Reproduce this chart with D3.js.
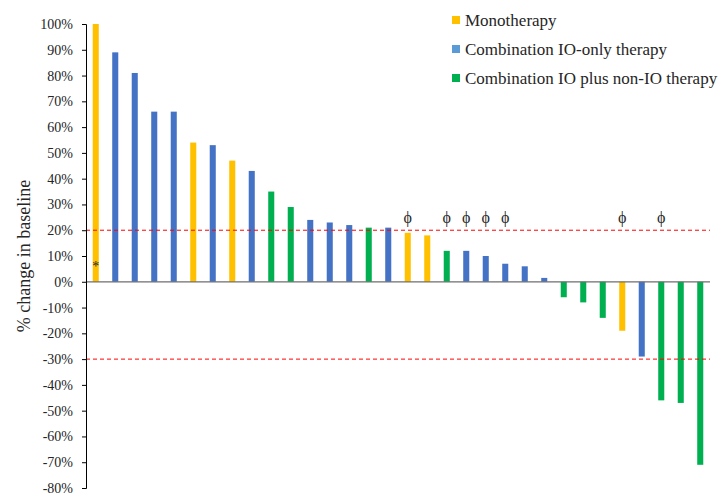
<!DOCTYPE html>
<html>
<head>
<meta charset="utf-8">
<script src="https://cdn.jsdelivr.net/npm/d3@7"></script>
<style>
  body { margin: 0; background: #fff; }
  svg text { font-family: 'Liberation Serif', 'Times New Roman', serif; fill: #262626; }
</style>
</head>
<body>
<div id="chart"></div>
<script>
// data (patients sorted by % change)
const patients = d3.range(1, 33).map(i => "P" + i);
const changes = [100, 89, 81, 66, 66, 54, 53, 47, 43, 35, 29, 24, 23, 22, 21, 21, 19, 18, 12, 12, 10, 7, 6, 1.5,
                 -6, -8, -14, -19, -29, -46, -47, -71];
const therapy = ["M", "C", "C", "C", "C", "M", "C", "M", "C", "N", "N", "C", "C", "C", "N", "C", "M", "M", "N", "C",
                 "C", "C", "C", "C", "N", "N", "N", "M", "C", "N", "N", "N"];
const phiMarked = ["P17", "P19", "P20", "P21", "P22", "P28", "P30"];
const starMarked = ["P1"];
const yTicks = d3.range(-80, 101, 10);
const cutoffs = [20, -30];
const legendKeys = ["M", "C", "N"];
const legendLabels = ["Monotherapy", "Combination IO-only therapy", "Combination IO plus non-IO therapy"];

const width = 723;
const height = 496;
const margin = {top: 24, right: 13, bottom: 8, left: 86};
const serif = "'Liberation Serif', 'Times New Roman', serif";

const svg = d3.select("#chart")
  .append("svg")
  .attr("width", width)
  .attr("height", height);

const x = d3.scaleBand()
  .domain(patients)
  .range([margin.left, width - margin.right])
  .paddingInner(0.69)
  .paddingOuter(0.345);

const y = d3.scaleLinear()
  .domain([-80, 100])
  .range([height - margin.bottom, margin.top]);

const barColor = d3.scaleOrdinal().domain(legendKeys).range(["#FFC000", "#4472C4", "#00B050"]);
const keyColor = d3.scaleOrdinal().domain(legendKeys).range(["#FFC000", "#5B9BD5", "#00B050"]);

// bars
svg.append("g")
  .selectAll("rect")
  .data(patients)
  .join("rect")
  .attr("x", d => x(d))
  .attr("width", x.bandwidth())
  .attr("y", (d, i) => y(Math.max(0, changes[i])))
  .attr("height", (d, i) => Math.abs(y(changes[i]) - y(0)))
  .attr("fill", (d, i) => barColor(therapy[i]));

// zero line
svg.append("line")
  .attr("x1", margin.left).attr("x2", width - margin.right)
  .attr("y1", y(0)).attr("y2", y(0))
  .attr("stroke", "#6e6e6e")
  .attr("stroke-width", 1.2);

// 20% / -30% cut-offs
svg.append("g")
  .selectAll("line")
  .data(cutoffs)
  .join("line")
  .attr("x1", margin.left).attr("x2", width - margin.right)
  .attr("y1", d => y(d)).attr("y2", d => y(d))
  .attr("stroke", "#FF0000")
  .attr("stroke-width", 1)
  .attr("stroke-dasharray", "4,3");

// y axis
const yAxis = svg.append("g")
  .attr("transform", `translate(${margin.left},0)`)
  .call(d3.axisLeft(y).tickValues(yTicks).tickSize(4).tickPadding(9).tickFormat(d => d + "%"));
yAxis.attr("font-family", serif).attr("font-size", 14);
yAxis.select(".domain").attr("stroke", "#000");
yAxis.selectAll(".tick line").attr("stroke", "#000");
yAxis.selectAll("text").attr("fill", "#262626");

svg.append("text")
  .attr("transform", "translate(30,256) rotate(-90)")
  .attr("text-anchor", "middle")
  .attr("font-family", serif)
  .attr("font-size", 18)
  .text("% change in baseline");

// annotations
svg.append("g")
  .selectAll("text")
  .data(phiMarked)
  .join("text")
  .attr("x", d => x(d) + x.bandwidth() / 2)
  .attr("y", 223)
  .attr("text-anchor", "middle")
  .attr("font-family", serif)
  .attr("font-size", 16)
  .text("ϕ");

svg.append("g")
  .selectAll("text")
  .data(starMarked)
  .join("text")
  .attr("x", d => x(d) + x.bandwidth() / 2)
  .attr("y", 271)
  .attr("text-anchor", "middle")
  .attr("font-family", serif)
  .attr("font-size", 14)
  .attr("fill", "#000")
  .text("*");

// legend
const legend = svg.append("g")
  .selectAll("g")
  .data(legendKeys)
  .join("g")
  .attr("transform", (d, i) => `translate(452,${16 + i * 29})`);

legend.append("rect")
  .attr("width", 8).attr("height", 8)
  .attr("fill", d => keyColor(d));

legend.append("text")
  .attr("x", 13)
  .attr("y", 4)
  .attr("dy", "0.35em")
  .attr("font-family", serif)
  .attr("font-size", 17)
  .text((d, i) => legendLabels[i]);
</script>
</body>
</html>
